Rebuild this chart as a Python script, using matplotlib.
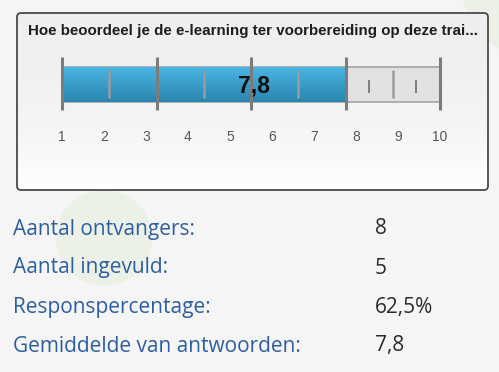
import numpy as np
import matplotlib
matplotlib.use("Agg")
import matplotlib.pyplot as plt
from matplotlib.patches import FancyBboxPatch, Rectangle, Circle

# ---- data ----
title = "Hoe beoordeel je de e-learning ter voorbereiding op deze trai..."
scale_min, scale_max = 1, 10
score = 7.8
score_label = "7,8"
tick_labels = [str(i) for i in range(1, 11)]
stat_labels = ["Aantal ontvangers:", "Aantal ingevuld:", "Responspercentage:",
               "Gemiddelde van antwoorden:"]
stat_values = ["8", "5", "62,5%", "7,8"]

W, H = 499, 372
fig = plt.figure(figsize=(W / 100, H / 100), dpi=100)
fig.patch.set_facecolor("#f5f5f5")

# background axes in pixel coordinates
bg = fig.add_axes([0, 0, 1, 1])
bg.set_xlim(0, W)
bg.set_ylim(H, 0)
bg.axis("off")

# faint decorative circles
bg.add_patch(Circle((104, 238), 48, facecolor="#ecf1e7", edgecolor="none", zorder=0))
bg.add_patch(Circle((540, -20), 80, facecolor="#ecf1e7", edgecolor="none", zorder=0))

# panel with gradient
px0, py0, px1, py1 = 17, 13, 488, 190
grad = np.linspace(0, 1, 200) ** 2
col_top = np.array([0.937, 0.937, 0.937])
col_bot = np.array([1.0, 1.0, 1.0])
img = col_top[None, :] * (1 - grad[:, None]) + col_bot[None, :] * grad[:, None]
img = img[:, None, :]
panel = FancyBboxPatch((px0, py0), px1 - px0, py1 - py0,
                       boxstyle="round,pad=0,rounding_size=4",
                       facecolor="none", edgecolor="#4a4a4a", linewidth=1.3, zorder=3)
bg.add_patch(panel)
im = bg.imshow(img, extent=[px0, px1, py1, py0], aspect="auto", zorder=1,
               interpolation="bilinear")
im.set_clip_path(panel)

bg.text(28, 31, title, fontsize=10.9, fontweight="bold", color="#1e1e1e",
        family="Liberation Sans", va="center", ha="left", zorder=4)

# stats
rows_y = [229, 268, 307, 346]
for lab, val, y in zip(stat_labels, stat_values, rows_y):
    bg.text(13, y, lab, fontsize=15, color="#2d5ea3", family="Open Sans",
            va="center", ha="left", zorder=4)
    bg.text(375, y, val, fontsize=15, color="#2b2b2b", family="Open Sans",
            va="center", ha="left", zorder=4)

# gauge axes: x in scale values, y in pixels
gx0, gx1 = 62, 440
gy0, gy1 = 50, 150
ax = fig.add_axes([gx0 / W, 1 - gy1 / H, (gx1 - gx0) / W, (gy1 - gy0) / H])
ax.set_xlim(scale_min, scale_max)
ax.set_ylim(gy1, gy0)
ax.axis("off")
ax.patch.set_alpha(0)

bar_top, bar_bot = 67, 102
ax.add_patch(Rectangle((scale_min, bar_top), scale_max - scale_min, bar_bot - bar_top,
                       facecolor="#e2e2e2", edgecolor="#a4a4a4", linewidth=1.2, zorder=2))
g = np.linspace(0, 1, 100)
c1 = np.array([0x4b, 0xb5, 0xe2]) / 255
c2 = np.array([0x28, 0x86, 0xb0]) / 255
bimg = (c1[None, :] * (1 - g[:, None]) + c2[None, :] * g[:, None])[:, None, :]
ax.imshow(bimg, extent=[scale_min, score, bar_bot, bar_top], aspect="auto",
          zorder=3, interpolation="bilinear")
ax.set_xlim(scale_min, scale_max)
ax.set_ylim(gy1, gy0)

ticks = np.linspace(scale_min, scale_max, 17)
for i, t in enumerate(ticks):
    if i % 4 == 0:
        ax.plot([t, t], [57, 110], color="#7c7c7c", lw=2.2, zorder=5,
                solid_capstyle="butt", clip_on=False)
    elif i % 2 == 0:
        ax.plot([t, t], [70, 98], color="#9c9c9c", lw=1.8, zorder=5,
                solid_capstyle="butt")
    elif t > score:
        ax.plot([t, t], [80, 93], color="#777777", lw=1.3, zorder=5,
                solid_capstyle="butt")

ax.text((scale_min + scale_max) / 2 + 0.08, 86, score_label, fontsize=16.5,
        fontweight="bold", color="#111111", family="Liberation Sans",
        ha="center", va="center", zorder=6)

for i, lab in enumerate(tick_labels):
    ax.text(scale_min + i, 137, lab, fontsize=10, color="#555555",
            family="Liberation Sans", ha="center", va="center", zorder=6)

fig.savefig("out.png", dpi=100, facecolor=fig.get_facecolor())
